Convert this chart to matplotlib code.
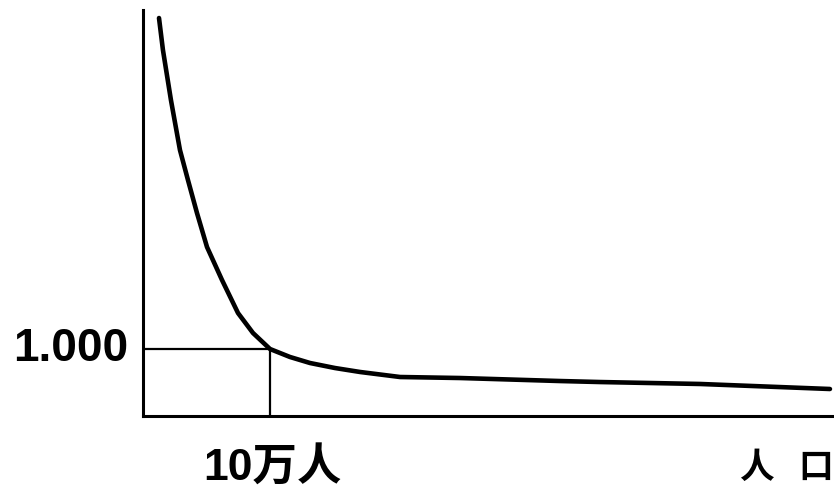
import matplotlib
matplotlib.use("Agg")
import matplotlib.pyplot as plt

# population in units of 10万人, relative value (1.000 at 10万人)
pop = [0.126, 0.157, 0.220, 0.291, 0.354, 0.425, 0.504, 0.622, 0.748, 0.866,
       1.0, 1.157, 1.315, 1.512, 1.709, 2.024, 2.496, 3.283, 3.598, 4.386, 5.409]
val = [5.94, 5.463, 4.716, 3.97, 3.522, 3.03, 2.522, 2.03, 1.537, 1.239,
       1.0, 0.881, 0.791, 0.716, 0.657, 0.582, 0.567, 0.522, 0.507, 0.478, 0.403]
ref_x = 1.0
ref_y = 1.0
ylabel_text = "1.000"
xlabel_text = "10万人"
axis_name = ["人", "口"]

W, H = 834, 491
fig = plt.figure(figsize=(W / 100, H / 100), dpi=100)
ax = fig.add_axes([143 / W, (H - 416) / H, (834 - 143) / W, (416 - 10) / H])
ax.set_xlim(0, (834 - 143) / 127)
ax.set_ylim(0, (416 - 10) / 67)

ax.plot(pop, val, color="black", lw=3.3, solid_capstyle="round", solid_joinstyle="round")
ax.plot([0, ref_x], [ref_y, ref_y], color="black", lw=1.6)
ax.plot([ref_x, ref_x], [0, ref_y], color="black", lw=1.6)

for s in ["top", "right"]:
    ax.spines[s].set_visible(False)
for s in ["left", "bottom"]:
    ax.spines[s].set_linewidth(2.2)
ax.set_xticks([])
ax.set_yticks([])

fams = ["Liberation Sans", "Noto Sans CJK SC"]
ax.text(-0.12, ref_y, ylabel_text, ha="right", va="center", fontsize=33,
        fontweight="bold", family=fams)
fig.text(272 / W, 1 - 481 / H, xlabel_text, ha="center", va="baseline", fontsize=32,
         fontweight="bold", family=fams)
fig.text(756 / W, 1 - 467 / H, axis_name[0], ha="center", va="center", fontsize=25,
         family=["Noto Sans CJK SC", "DejaVu Sans"], fontweight="bold")
fig.text(816 / W, 1 - 467 / H, axis_name[1], ha="center", va="center", fontsize=25,
         family=["Noto Sans CJK SC", "DejaVu Sans"], fontweight="bold")

fig.savefig("out.png", dpi=100)
